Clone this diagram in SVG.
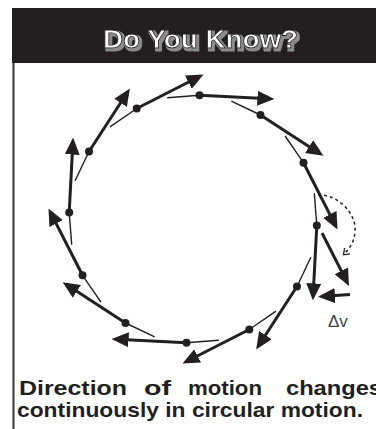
<svg xmlns="http://www.w3.org/2000/svg" width="376" height="429" viewBox="0 0 376 429">
<style>
.thick{stroke:#231f20;stroke-width:3;fill:none;marker-end:url(#ah)}
.chord{stroke:#231f20;stroke-width:1.4;fill:none}
.dot{fill:#231f20}
.body{font-family:"Liberation Sans",Arial,sans-serif;font-weight:bold;font-size:21px;fill:#231f20}
</style>
<defs>
<marker id="ah" markerUnits="userSpaceOnUse" markerWidth="17" markerHeight="15" refX="7" refY="7.5" orient="auto" viewBox="0 0 17 15">
<path d="M0,0 L17,7.5 L0,15 z" fill="#231f20"/>
</marker>
<filter id="shadow" x="-10%" y="-30%" width="120%" height="160%">
<feMorphology in="SourceAlpha" operator="dilate" radius="0.6" result="thick"/>
<feOffset in="thick" dx="1.8" dy="1.8" result="off"/>
<feFlood flood-color="#8c8c8c"/>
<feComposite in2="off" operator="in" result="sh"/>
<feMerge><feMergeNode in="sh"/><feMergeNode in="SourceGraphic"/></feMerge>
</filter>
</defs>
<rect width="376" height="429" fill="#fff"/>
<g id="header">
<rect x="12" y="8" width="364" height="55" fill="#231f20"/>
<line x1="13.5" y1="63" x2="13.5" y2="429" stroke="#3a3a3a" stroke-width="2"/>
<text x="200.5" y="48" text-anchor="middle" textLength="195" lengthAdjust="spacingAndGlyphs" font-family="'Liberation Sans',Arial,sans-serif" font-weight="bold" font-size="25" fill="#fff" stroke="#231f20" stroke-width="0.8" filter="url(#shadow)">Do You Know?</text>
</g>
<g id="connectors">
<line class="chord" x1="167.2" y1="97.7" x2="199.5" y2="95.2"/>
<line class="chord" x1="231.3" y1="101.1" x2="260.5" y2="115.0"/>
<line class="chord" x1="285.1" y1="136.0" x2="303.5" y2="162.7"/>
<line class="chord" x1="314.3" y1="193.2" x2="316.8" y2="225.5"/>
<line class="chord" x1="310.9" y1="257.3" x2="297.0" y2="286.5"/>
<line class="chord" x1="276.0" y1="311.1" x2="249.3" y2="329.5"/>
<line class="chord" x1="218.8" y1="340.3" x2="186.5" y2="342.8"/>
<line class="chord" x1="154.7" y1="336.9" x2="125.5" y2="323.0"/>
<line class="chord" x1="100.9" y1="302.0" x2="82.5" y2="275.3"/>
<line class="chord" x1="71.7" y1="244.8" x2="69.2" y2="212.5"/>
<line class="chord" x1="75.1" y1="180.7" x2="89.0" y2="151.5"/>
<line class="chord" x1="110.0" y1="126.9" x2="136.7" y2="108.5"/>
</g>
<g id="v0"><line class="thick" x1="199.5" y1="95.2" x2="264.4" y2="98.6"/><circle class="dot" cx="199.5" cy="95.2" r="4"/></g>
<g id="v1"><line class="thick" x1="260.5" y1="115.0" x2="315.0" y2="150.4"/><circle class="dot" cx="260.5" cy="115.0" r="4"/></g>
<g id="v2"><line class="thick" x1="303.5" y1="162.7" x2="333.0" y2="220.6"/><circle class="dot" cx="303.5" cy="162.7" r="4"/></g>
<g id="v3"><line class="thick" x1="316.8" y1="225.5" x2="313.4" y2="290.4"/><circle class="dot" cx="316.8" cy="225.5" r="4"/></g>
<g id="v4"><line class="thick" x1="297.0" y1="286.5" x2="261.6" y2="341.0"/><circle class="dot" cx="297.0" cy="286.5" r="4"/></g>
<g id="v5"><line class="thick" x1="249.3" y1="329.5" x2="191.4" y2="359.0"/><circle class="dot" cx="249.3" cy="329.5" r="4"/></g>
<g id="v6"><line class="thick" x1="186.5" y1="342.8" x2="121.6" y2="339.4"/><circle class="dot" cx="186.5" cy="342.8" r="4"/></g>
<g id="v7"><line class="thick" x1="125.5" y1="323.0" x2="71.0" y2="287.6"/><circle class="dot" cx="125.5" cy="323.0" r="4"/></g>
<g id="v8"><line class="thick" x1="82.5" y1="275.3" x2="53.0" y2="217.4"/><circle class="dot" cx="82.5" cy="275.3" r="4"/></g>
<g id="v9"><line class="thick" x1="69.2" y1="212.5" x2="72.6" y2="147.6"/><circle class="dot" cx="69.2" cy="212.5" r="4"/></g>
<g id="v10"><line class="thick" x1="89.0" y1="151.5" x2="124.4" y2="97.0"/><circle class="dot" cx="89.0" cy="151.5" r="4"/></g>
<g id="v11"><line class="thick" x1="136.7" y1="108.5" x2="194.6" y2="79.0"/><circle class="dot" cx="136.7" cy="108.5" r="4"/></g>
<g id="delta-v">
<line class="thick" x1="322" y1="233" x2="344.5" y2="277.1"/>
<line class="thick" x1="350" y1="294.5" x2="328" y2="296.1"/>
<path d="M318,195 C338,194 357,214 355,232 C354,242 350,248 344,254" fill="none" stroke="#231f20" stroke-width="1.5" stroke-dasharray="3,3"/>
<path d="M350,253.8 L343.5,254.8 L344.6,248" fill="none" stroke="#231f20" stroke-width="1.3"/>
<text x="328" y="327" font-family="'Liberation Sans',Arial,sans-serif" font-size="17" fill="#444">Δv</text>
</g>
<g id="caption">
<text class="body" x="19" y="395" textLength="108" lengthAdjust="spacingAndGlyphs">Direction</text>
<text class="body" x="144" y="395" textLength="27" lengthAdjust="spacingAndGlyphs">of</text>
<text class="body" x="188" y="395" textLength="74" lengthAdjust="spacingAndGlyphs">motion</text>
<text class="body" x="286" y="395" textLength="96" lengthAdjust="spacingAndGlyphs">changes</text>
<text class="body" x="17" y="417" textLength="346" lengthAdjust="spacingAndGlyphs">continuously in circular motion.</text>
</g>
</svg>
